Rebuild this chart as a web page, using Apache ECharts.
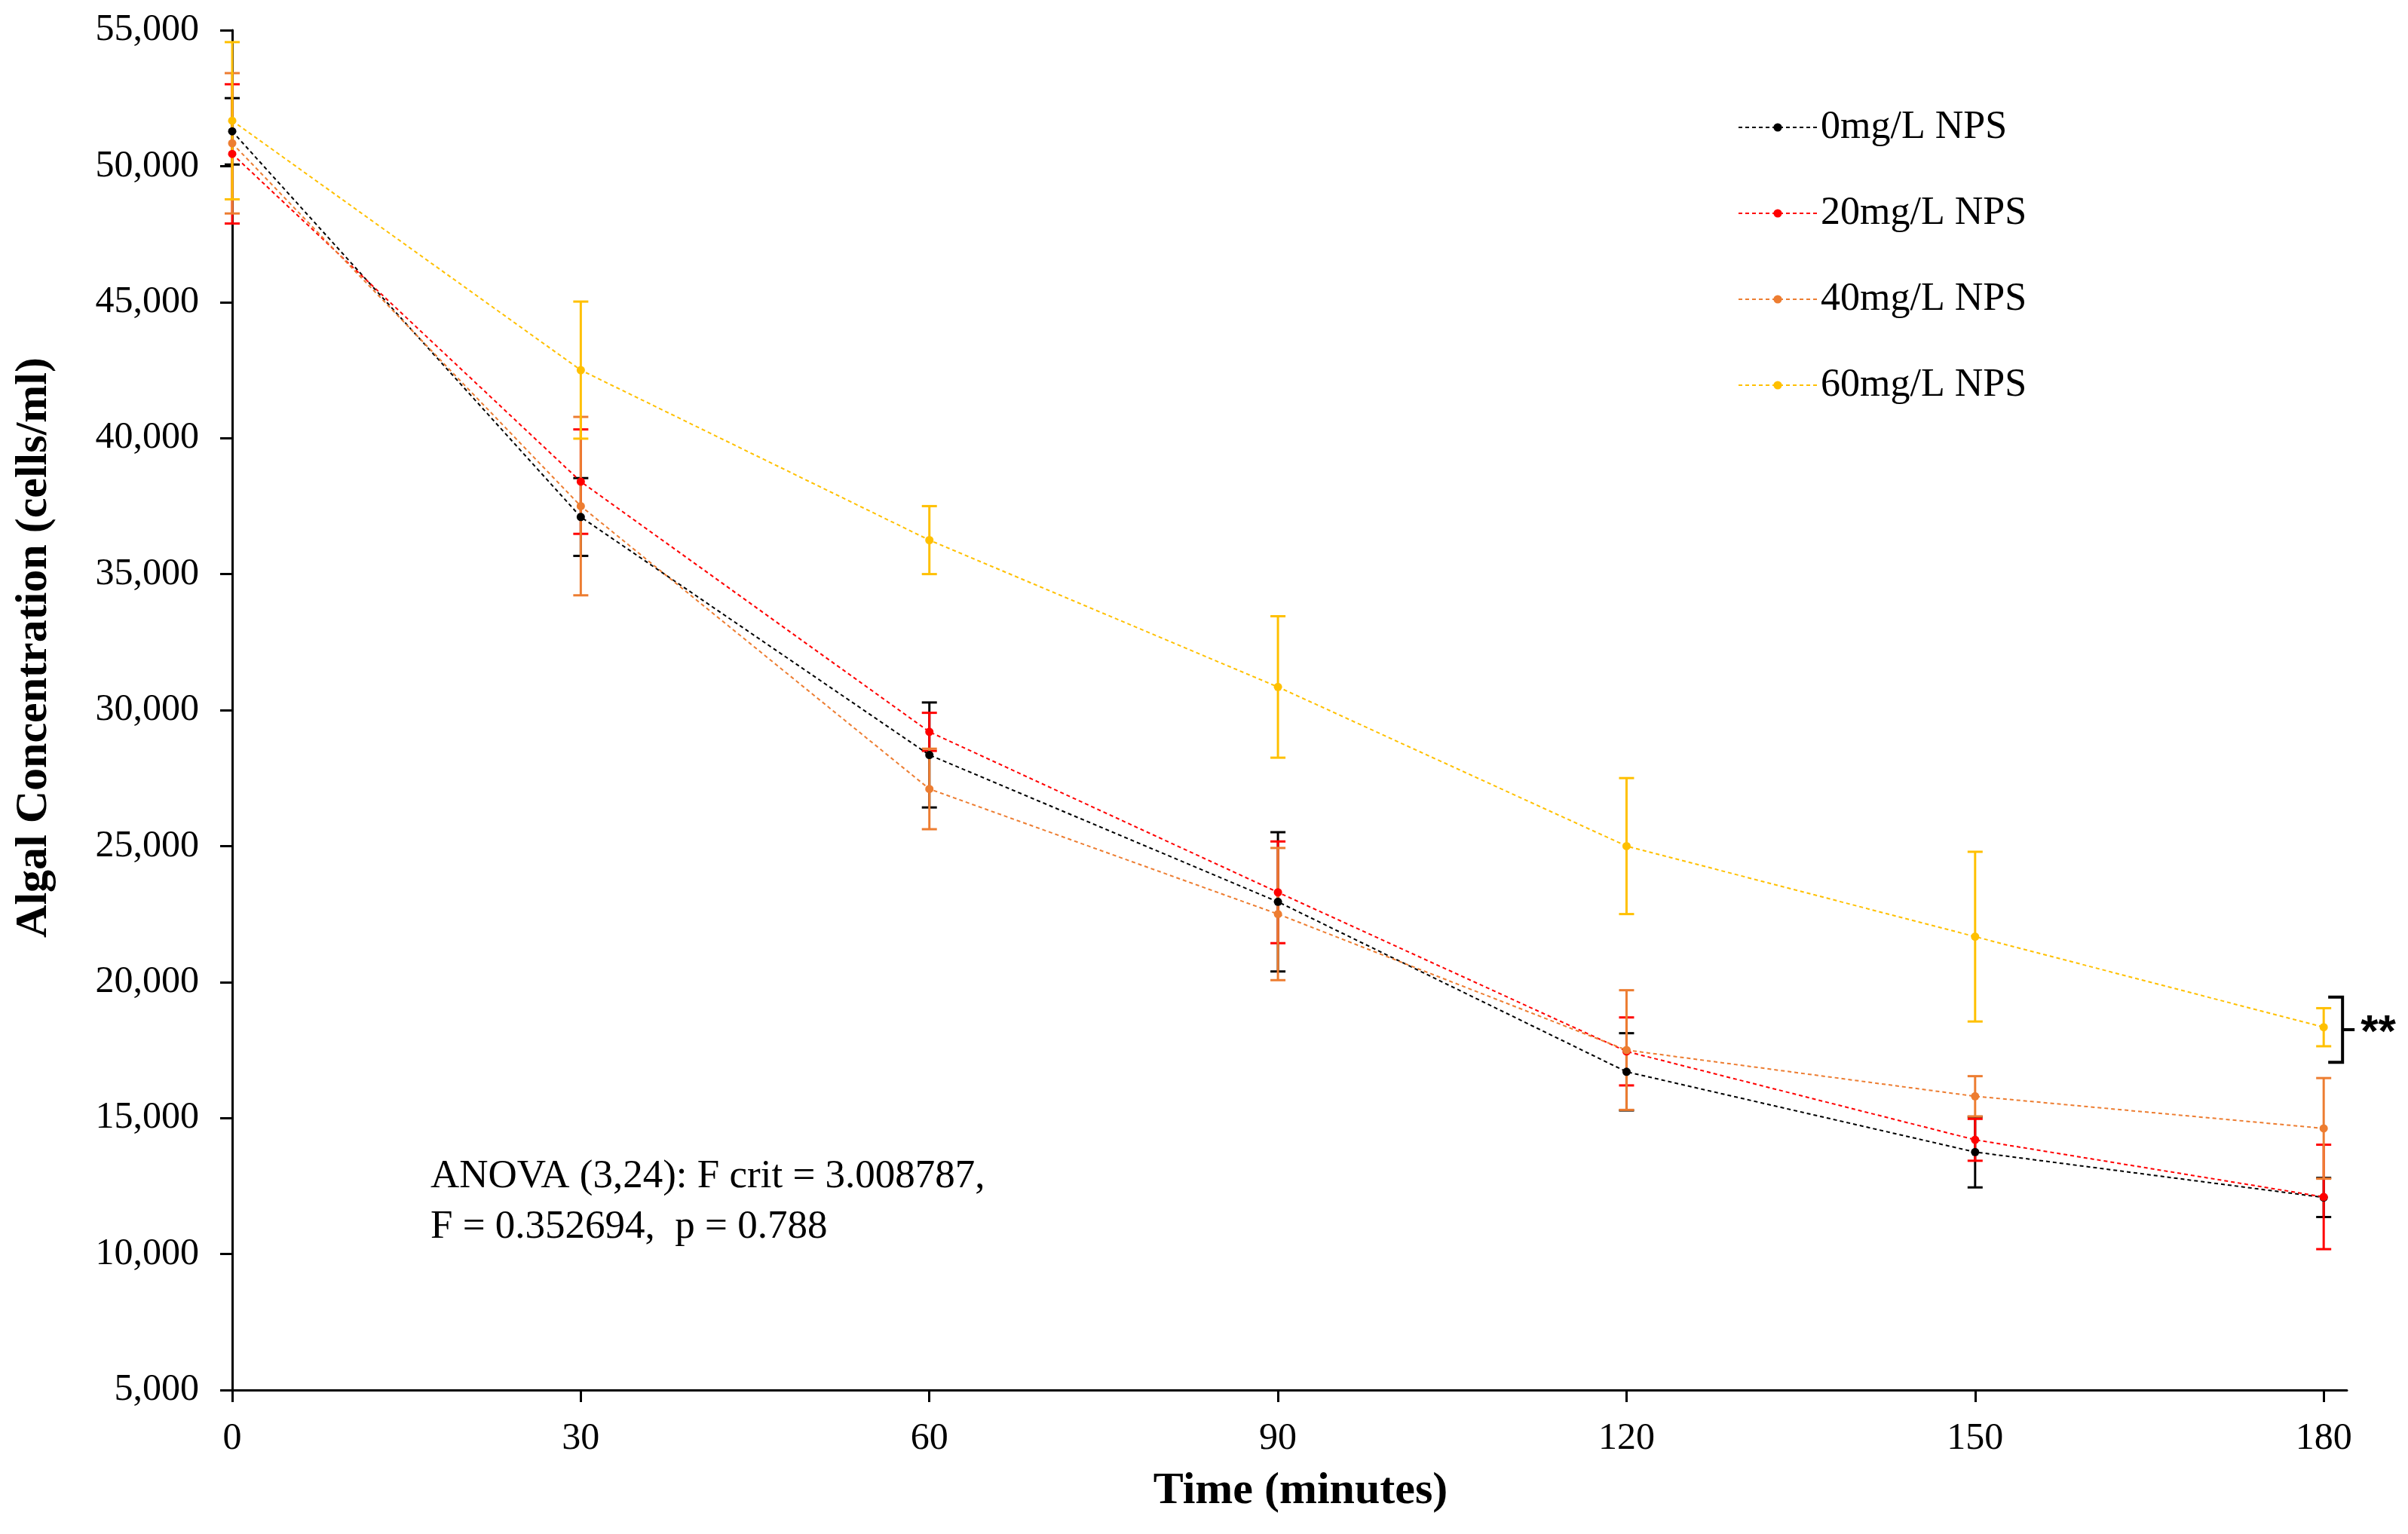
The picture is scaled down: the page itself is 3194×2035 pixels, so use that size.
<!DOCTYPE html>
<html>
<head>
<meta charset="utf-8">
<script src="https://cdn.jsdelivr.net/npm/echarts@6/dist/echarts.min.js"></script>
<style>
  html, body { margin: 0; padding: 0; background: #fff; }
  #chart { width: 3194px; height: 2035px; }
</style>
</head>
<body>
<div id="chart"></div>
<script>
var times = [0, 30, 60, 90, 120, 150, 180];
var names = ['0mg/L NPS', '20mg/L NPS', '40mg/L NPS', '60mg/L NPS'];
var colors = ['#000000', '#FF0000', '#ED7D31', '#FFC000'];

// mean algal concentration (cells/ml) and error
var nps0 = [51280, 37100, 28350, 22950, 16700, 13750, 12080];
var err0 = [1220, 1430, 1930, 2560, 1420, 1300, 720];
var nps20 = [50450, 38400, 29200, 23300, 17450, 14200, 12100];
var err20 = [2560, 1920, 700, 1870, 1250, 770, 1920];
var nps40 = [50840, 37500, 27100, 22500, 17500, 15800, 14620];
var err40 = [2580, 3280, 1480, 2430, 2200, 740, 1850];
var nps60 = [51670, 42500, 36250, 30850, 25000, 21670, 18340];
var err60 = [2890, 2520, 1250, 2600, 2500, 3120, 700];

var xTicks = [0, 30, 60, 90, 120, 150, 180];
var yMin = 5000, yMax = 55000, yStep = 5000;

var means = [nps0, nps20, nps40, nps60];
var errs = [err0, err20, err40, err60];
var serif = '"Liberation Serif", "Times New Roman", serif';

var chart = echarts.init(document.getElementById('chart'));

function errorRenderer(color) {
  return function (params, api) {
    var x = api.value(0);
    var lo = api.coord([x, api.value(1)]);
    var hi = api.coord([x, api.value(2)]);
    var hw = 10;
    var st = { stroke: color, lineWidth: 3 };
    return {
      type: 'group',
      children: [
        { type: 'line', shape: { x1: hi[0], y1: hi[1], x2: lo[0], y2: lo[1] }, style: st },
        { type: 'line', shape: { x1: hi[0] - hw, y1: hi[1], x2: hi[0] + hw, y2: hi[1] }, style: st },
        { type: 'line', shape: { x1: lo[0] - hw, y1: lo[1], x2: lo[0] + hw, y2: lo[1] }, style: st }
      ]
    };
  };
}

var series = [];
means.forEach(function (vals, k) {
  series.push({
    name: 'err' + k,
    type: 'custom',
    z: 1,
    renderItem: errorRenderer(colors[k]),
    encode: { x: 0, y: [1, 2] },
    data: times.map(function (t, i) { return [t, vals[i] - errs[k][i], vals[i] + errs[k][i]]; })
  });
});
means.forEach(function (vals, k) {
  series.push({
    name: names[k],
    type: 'line',
    z: 3,
    symbol: 'circle',
    symbolSize: 11,
    itemStyle: { color: colors[k] },
    lineStyle: { color: colors[k], width: 2, type: [5, 4] },
    data: times.map(function (t, i) { return [t, vals[i]]; })
  });
});

chart.setOption({
  backgroundColor: '#ffffff',
  animation: false,
  grid: { left: 308, right: 81, top: 40, bottom: 191 },
  legend: {
    data: names,
    orient: 'vertical',
    left: 2300,
    top: 138,
    itemWidth: 104,
    itemHeight: 14,
    itemGap: 62,
    textStyle: { fontFamily: serif, fontSize: 52, color: '#000' }
  },
  xAxis: {
    type: 'value',
    min: 0,
    max: 182,
    axisLine: { lineStyle: { color: '#000', width: 3 } },
    axisTick: { show: true, length: 16, lineStyle: { color: '#000', width: 3 }, customValues: xTicks },
    axisLabel: { customValues: xTicks, margin: 40, fontFamily: serif, fontSize: 50, color: '#000' },
    splitLine: { show: false }
  },
  yAxis: {
    type: 'value',
    min: yMin,
    max: yMax,
    interval: yStep,
    axisLine: { show: true, lineStyle: { color: '#000', width: 3 } },
    axisTick: { show: true, length: 16, lineStyle: { color: '#000', width: 3 } },
    axisLabel: {
      margin: 44,
      fontFamily: serif,
      fontSize: 50,
      color: '#000',
      formatter: function (v) { return v.toLocaleString('en-US'); }
    },
    splitLine: { show: false }
  },
  series: series
});

// significance bracket next to the 60mg/L end point
var bTop = chart.convertToPixel({ gridIndex: 0 }, [180, 19450]);
var bBot = chart.convertToPixel({ gridIndex: 0 }, [180, 17050]);
var bx = bTop[0] + 25, midY = (bTop[1] + bBot[1]) / 2;
chart.setOption({
  graphic: [
    {
      type: 'polyline',
      shape: { points: [[bTop[0] + 6, bTop[1]], [bx, bTop[1]], [bx, bBot[1]], [bTop[0] + 6, bBot[1]]] },
      style: { stroke: '#000', lineWidth: 4, fill: null }
    },
    {
      type: 'line',
      shape: { x1: bx, y1: midY, x2: bx + 16, y2: midY },
      style: { stroke: '#000', lineWidth: 4 }
    },
    {
      type: 'text',
      x: bx + 24,
      y: midY + 6,
      style: { text: '**', font: 'bold 60px "Liberation Sans", Arial, sans-serif', fill: '#000', verticalAlign: 'middle' }
    },
    {
      type: 'text',
      left: 571,
      top: 1528,
      style: {
        text: 'ANOVA (3,24): F crit = 3.008787,\nF = 0.352694,  p = 0.788',
        font: '53px ' + serif,
        lineHeight: 67,
        fill: '#000'
      }
    },
    {
      type: 'text',
      x: 45,
      y: 859,
      rotation: Math.PI / 2,
      style: {
        text: 'Algal Concentration (cells/ml)',
        font: 'bold 60px ' + serif,
        fill: '#000',
        align: 'center',
        verticalAlign: 'middle'
      }
    },
    {
      type: 'text',
      x: 1725,
      y: 1978,
      style: {
        text: 'Time (minutes)',
        font: 'bold 60px ' + serif,
        fill: '#000',
        align: 'center',
        verticalAlign: 'middle'
      }
    }
  ]
});
</script>
</body>
</html>
